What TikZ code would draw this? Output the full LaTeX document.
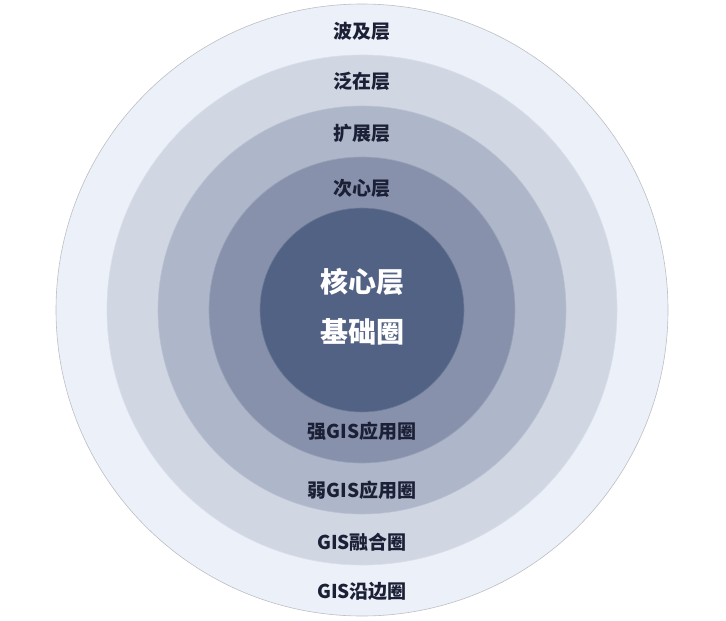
\documentclass[tikz,border=0pt]{standalone}
\usepackage{fontspec}
\setmainfont{Noto Sans CJK SC}
\definecolor{ring1}{HTML}{ECF0F8}
\definecolor{ring2}{HTML}{D1D6E3}
\definecolor{ring3}{HTML}{AEB6C9}
\definecolor{ring4}{HTML}{8791AB}
\definecolor{ring5}{HTML}{526285}
\definecolor{labelc}{HTML}{1C2036}
\definecolor{edgec}{HTML}{BDBFC4}
\begin{document}
\begin{tikzpicture}[x=1pt,y=-1pt,
  ring/.style={line width=0.6pt},
  lbl/.style={font=\fontsize{19}{22}\selectfont\bfseries, text=labelc, inner sep=0pt},
  corelbl/.style={font=\fontsize{28}{31}\selectfont\bfseries, text=white, inner sep=0pt}]
\useasboundingbox (0,0) rectangle (726,621);
\coordinate (c) at (362,310);
\draw[ring, fill=ring1, draw=edgec] (c) circle[radius=306];
\draw[ring, fill=ring2, draw=ring2!80!white] (c) circle[radius=255];
\draw[ring, fill=ring3, draw=ring3!85!white] (c) circle[radius=204];
\draw[ring, fill=ring4, draw=ring4!85!white] (c) circle[radius=153];
\draw[ring, fill=ring5, draw=ring5!85!white] (c) circle[radius=102];
\node[lbl] (t1) at (362,31.5) {波及层};
\node[lbl] (t2) at (362,81.5) {泛在层};
\node[lbl] (t3) at (362,133) {扩展层};
\node[lbl] (t4) at (362,188) {次心层};
\node[corelbl] (t5) at (362,281.5) {核心层};
\node[corelbl] (t6) at (362,332) {基础圈};
\node[lbl] (b4) at (362,431.5) {强GIS应用圈};
\node[lbl] (b3) at (362,490) {弱GIS应用圈};
\node[lbl] (b2) at (362,542.5) {GIS融合圈};
\node[lbl] (b1) at (362,591) {GIS沿边圈};
\end{tikzpicture}
\end{document}
